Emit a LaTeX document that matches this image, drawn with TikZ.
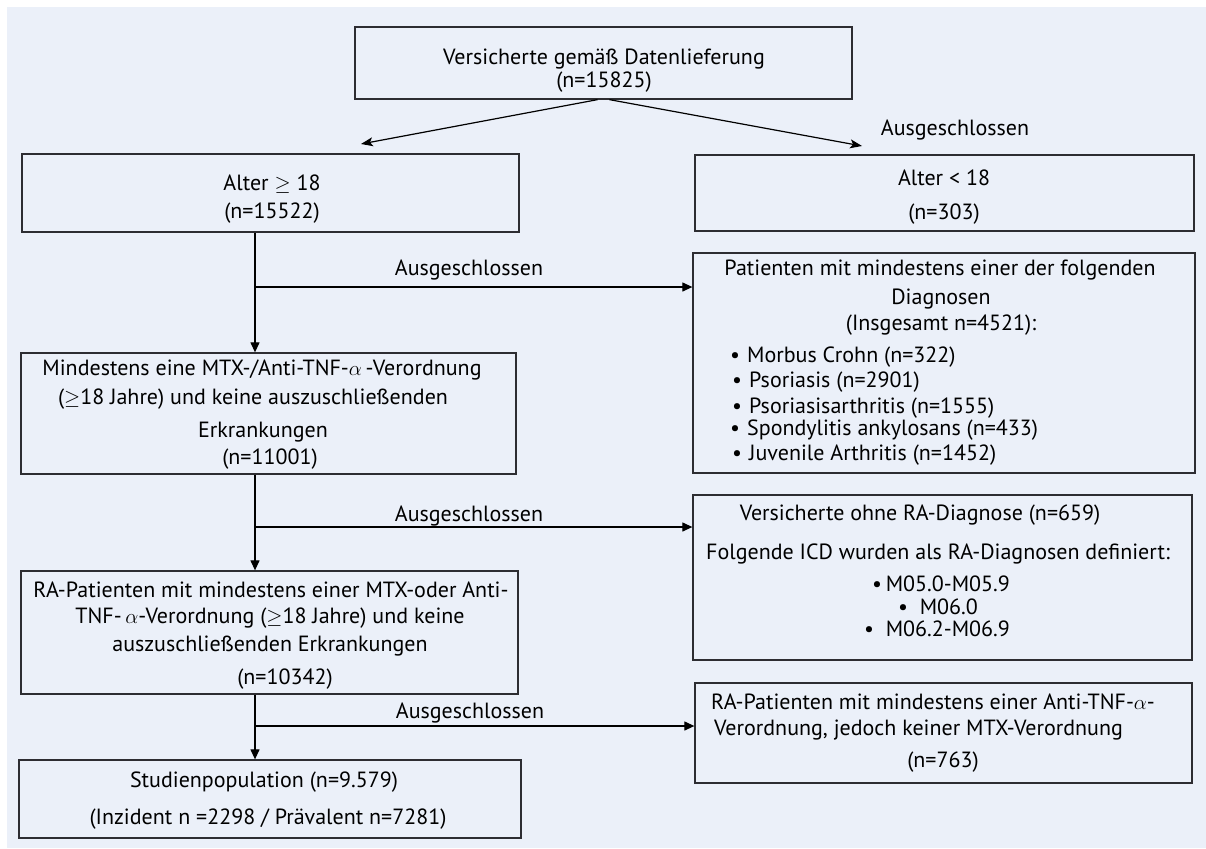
\documentclass[tikz,border=0pt]{standalone}
\usepackage{fontspec}
\setmainfont{PT Sans}
\usetikzlibrary{arrows.meta}
\definecolor{panel}{RGB}{235,240,249}
\definecolor{frame}{RGB}{45,45,50}
\newcommand{\bul}{\makebox[17pt][l]{•}}
\begin{document}
\begin{tikzpicture}[x=1pt,y=-1pt,
  font=\fontsize{22}{26}\selectfont,
  box/.style={draw=frame,line width=1.3pt,inner sep=0pt},
  txt/.style={inner sep=0pt,text height=16pt,text depth=1pt},
  conn/.style={draw=black,line width=1.2pt},
  arr/.style={conn,-{Triangle[length=10pt,width=9pt]}},
  arrtop/.style={conn,-{Stealth[length=12pt,width=9pt,inset=3pt]}}]

% page and panel
\fill[white] (0,0) rectangle (1206,848);
\useasboundingbox (0,0) rectangle (1206,848);
\fill[panel] (7,7) rectangle (1206,848);

% frames
\node[box,minimum width=497pt,minimum height=72pt]  (top)  at (603.5,63) {};
\node[box,minimum width=497pt,minimum height=78pt]  (a18)  at (270.5,193) {};
\node[box,minimum width=499pt,minimum height=76pt]  (u18)  at (944.5,193) {};
\node[box,minimum width=502pt,minimum height=220pt] (diag) at (944,363) {};
\node[box,minimum width=495pt,minimum height=121pt] (mtx)  at (268.5,413.5) {};
\node[box,minimum width=499pt,minimum height=165pt] (icd)  at (942.5,577.5) {};
\node[box,minimum width=497pt,minimum height=123pt] (ra)   at (269.5,632.5) {};
\node[box,minimum width=497pt,minimum height=100pt] (anti) at (943.5,733) {};
\node[box,minimum width=502pt,minimum height=78pt]  (stud) at (270,799) {};

% texts: top
\node[txt] (topA) at (604,57) {Versicherte gemäß Datenlieferung};
\node[txt] (topB) at (604,80) {(n=15825)};
\node[txt] (lab0) at (955,128) {Ausgeschlossen};

% age
\node[txt] (a18A) at (272,183) {Alter $\geq$ 18};
\node[txt] (a18B) at (272,211) {(n=15522)};
\node[txt] (u18A) at (944,178) {Alter < 18};
\node[txt] (u18B) at (944,212) {(n=303)};

% excluded diagnoses
\node[txt] (lab1) at (469,268) {Ausgeschlossen};
\node[txt] (dgA) at (940,268) {Patienten mit mindestens einer der folgenden};
\node[txt] (dgB) at (941,297) {Diagnosen};
\node[txt] (dgC) at (941,323) {(Insgesamt n=4521):};
\node[txt,anchor=west] (dg1) at (730,355) {\bul Morbus Crohn (n=322)};
\node[txt,anchor=west] (dg2) at (732,380) {\bul Psoriasis (n=2901)};
\node[txt,anchor=west] (dg3) at (732,406) {\bul Psoriasisarthritis (n=1555)};
\node[txt,anchor=west] (dg4) at (730,428) {\bul Spondylitis ankylosans (n=433)};
\node[txt,anchor=west] (dg5) at (732,453) {\bul Juvenile Arthritis (n=1452)};

% MTX / anti-TNF
\node[txt] (mtA) at (262,368) {Mindestens eine MTX-/Anti-TNF-$\alpha$\,-Verordnung};
\node[txt] (mtB) at (253,397) {($\geq$18 Jahre) und keine auszuschließenden};
\node[txt] (mtC) at (263,430) {Erkrankungen};
\node[txt] (mtD) at (270,457) {(n=11001)};

% RA diagnosis
\node[txt] (lab2) at (469,514) {Ausgeschlossen};
\node[txt] (icA) at (920,513) {Versicherte ohne RA-Diagnose (n=659)};
\node[txt] (icB) at (938,552) {Folgende ICD wurden als RA-Diagnosen definiert:};
\node[txt] (ic1) at (941,584) {•\,M05.0-M05.9};
\node[txt] (ic2) at (938,607) {•\ \ M06.0};
\node[txt] (ic3) at (937,629) {•\ \ M06.2-M06.9};

\node[txt] (raA) at (271,590) {RA-Patienten mit mindestens einer MTX-oder Anti-};
\node[txt] (raB) at (270,616) {TNF-\,$\alpha$-Verordnung ($\geq$18 Jahre) und keine};
\node[txt] (raC) at (270,644) {auszuschließenden Erkrankungen};
\node[txt] (raD) at (285,677) {(n=10342)};

% final step
\node[txt] (lab3) at (470,711) {Ausgeschlossen};
\node[txt,anchor=west] (anA) at (711,702) {RA-Patienten mit mindestens einer Anti-TNF-$\alpha$-};
\node[txt,anchor=west] (anB) at (714,728) {Verordnung, jedoch keiner MTX-Verordnung};
\node[txt] (anC) at (943,760) {(n=763)};
\node[txt] (stA) at (264,780) {Studienpopulation (n=9.579)};
\node[txt] (stB) at (268,817) {(Inzident n =2298 / Prävalent n=7281)};

% connectors
\coordinate (tipL) at (361,144);
\coordinate (tipR) at (862,146);
\draw[arrtop] ([xshift=-6pt]top.south) -- (tipL);
\draw[arrtop] ([xshift=6pt]top.south) -- (tipR);

\coordinate (trunk) at (255,0);
\coordinate (j1) at (255,287);
\coordinate (j2) at (255,527);
\coordinate (j3) at (255,726);
\draw[arr] (a18.south -| trunk) -- (mtx.north -| trunk);
\draw[arr] (j1) -- (diag.west |- j1);
\draw[arr] (mtx.south -| trunk) -- (ra.north -| trunk);
\draw[arr] (j2) -- (icd.west |- j2);
\draw[arr] (ra.south -| trunk) -- (stud.north -| trunk);
\draw[arr] (j3) -- (anti.west |- j3);
\end{tikzpicture}
\end{document}
